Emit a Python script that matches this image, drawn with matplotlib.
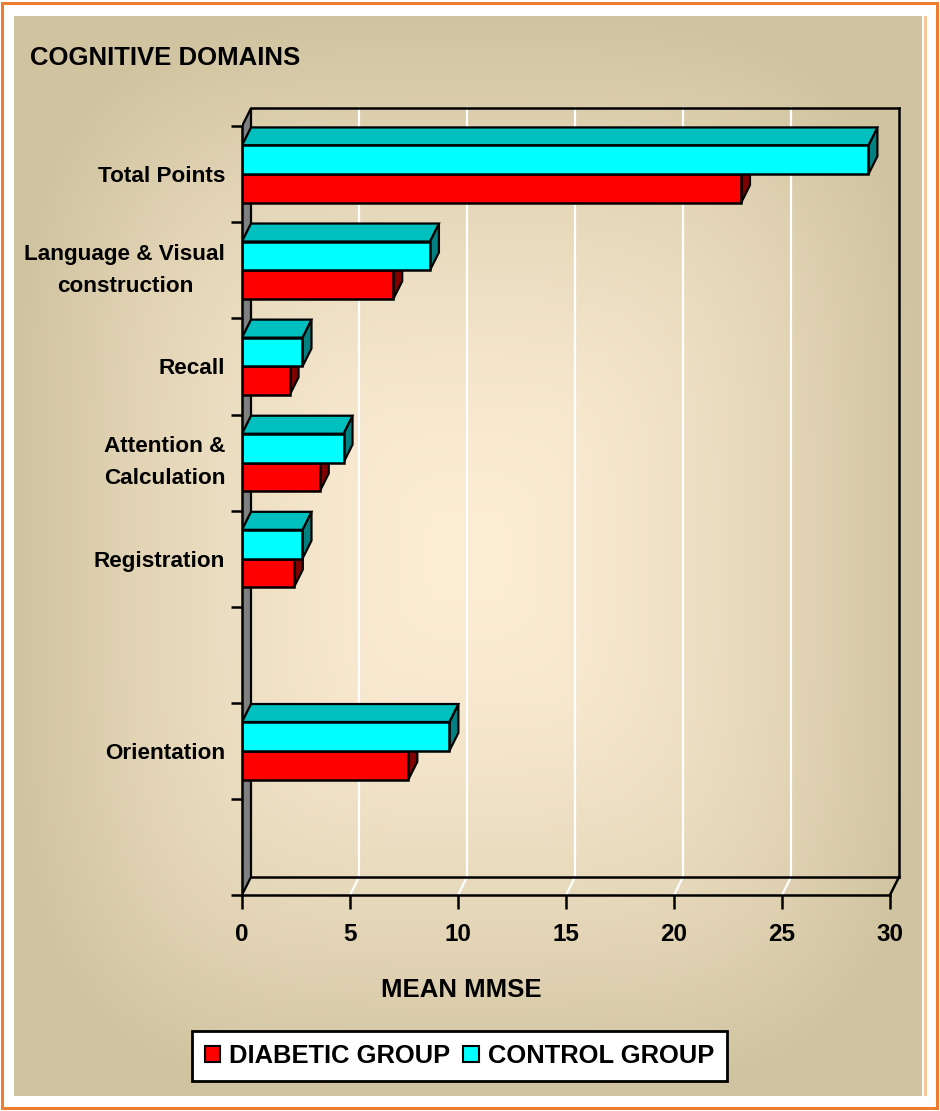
import numpy as np
import matplotlib.pyplot as plt
from matplotlib.patches import Polygon, Rectangle, Patch

# categories top to bottom (blank slots are empty categories in the original)
categories = ["Total Points", "Language & Visual\nconstruction", "Recall",
              "Attention &\nCalculation", "Registration", "", "Orientation", ""]
diabetic = [23.1, 7.0, 2.2, 3.6, 2.4, np.nan, 7.7, np.nan]
control = [29.0, 8.7, 2.8, 4.7, 2.8, np.nan, 9.6, np.nan]
xticks = [0, 5, 10, 15, 20, 25, 30]

plt.rcParams['font.family'] = ['Liberation Sans', 'DejaVu Sans']
plt.rcParams['font.weight'] = 'bold'

W, H = 940, 1111
fig = plt.figure(figsize=(W / 100, H / 100), dpi=100)
fig.patch.set_facecolor('white')


def fx(px):
    return px / W


def fy(py):
    return 1 - py / H


# beige panel with soft gradient
bg = fig.add_axes([fx(14), fy(1096), (922 - 14) / W, (1096 - 16) / H])
u = np.linspace(-1, 1, 300)
v = np.linspace(-1, 1, 350)
U, V = np.meshgrid(u, v)
r = (np.abs(U) ** 4 + np.abs(V) ** 4) ** 0.25
r = np.clip(r, 0, 1) ** 1.6
c0 = np.array([252, 237, 213]) / 255
c1 = np.array([208, 195, 159]) / 255
bg.imshow(c0 + (c1 - c0) * r[..., None], aspect='auto', extent=[0, 1, 0, 1])
bg.axis('off')

# orange outer frame
fig.patches.append(Rectangle((fx(2), fy(1108)), (937 - 2) / W, (1108 - 3) / H,
                             transform=fig.transFigure, fill=False,
                             edgecolor='#ED7D31', lw=2.2))
fig.patches.append(Rectangle((fx(924), fy(1096)), 3 / W, (1096 - 16) / H,
                             transform=fig.transFigure, color='#FAC898', lw=0))

# main 3D-looking chart
ppx, ppy = 21.6, 96.1
xmax, ymax = 31, 8.4
ax = fig.add_axes([fx(242), fy(895), xmax * ppx / W, ymax * ppy / H])
ax.set_xlim(0, xmax)
ax.set_ylim(0, ymax)
ax.patch.set_alpha(0)

n = len(categories)
dx, dy = 9 / ppx, 18 / ppy
top = n
xend = xticks[-1]

# gridlines on back wall and floor
for t in xticks[1:-1]:
    ax.plot([t + dx, t + dx], [dy, top + dy], color='white', lw=1.6, zorder=1)
    ax.plot([t, t + dx], [0, dy], color='white', lw=1.6, zorder=1)

# walls
ax.add_patch(Polygon([(0, 0), (dx, dy), (dx, top + dy), (0, top)],
                     facecolor='#808080', edgecolor='black', lw=1.6, zorder=2))
frame = dict(color='black', lw=1.8, zorder=2, solid_capstyle='projecting')
ax.plot([dx, xend + dx], [dy, dy], **frame)
ax.plot([xend, xend + dx], [0, dy], **frame)
ax.plot([xend + dx, xend + dx], [dy, top + dy], **frame)
ax.plot([dx, xend + dx], [top + dy, top + dy], **frame)

# bars
h = 0.3
for i in range(n):
    if np.isnan(control[i]):
        continue
    base = n - 1 - i
    z = 3 + i
    for val, y0, front, topc, side in [
            (diabetic[i], base + 0.2, '#FF0000', '#BF0000', '#800000'),
            (control[i], base + 0.2 + h, '#00FFFF', '#00BFBF', '#008080')]:
        y1 = y0 + h
        ax.add_patch(Polygon([(val, y0), (val + dx, y0 + dy), (val + dx, y1 + dy), (val, y1)],
                             facecolor=side, edgecolor='black', lw=1.6, zorder=z))
        ax.add_patch(Polygon([(0, y1), (val, y1), (val + dx, y1 + dy), (dx, y1 + dy)],
                             facecolor=topc, edgecolor='black', lw=1.6, zorder=z))
        ax.barh(y0, val, height=h, left=0, align='edge', color=front,
                edgecolor='black', lw=1.8, zorder=z)

# axes, ticks, labels
for s in ['top', 'right']:
    ax.spines[s].set_visible(False)
ax.spines['left'].set_bounds(0, top)
ax.spines['bottom'].set_bounds(0, xend)
ax.spines['left'].set_linewidth(1.8)
ax.spines['bottom'].set_linewidth(1.8)
ax.spines['left'].set_zorder(20)

ax.set_xticks(xticks)
ax.set_xticklabels([str(t) for t in xticks])
ax.tick_params(axis='x', length=10, width=1.8, pad=10, labelsize=17.5)
ax.set_yticks(range(n + 1))
ax.set_yticklabels([])
ax.tick_params(axis='y', which='major', length=8, width=1.8)
ax.set_yticks(np.arange(n) + 0.5, minor=True)
ax.set_yticklabels(categories[::-1], minor=True)
ax.tick_params(axis='y', which='minor', length=0, pad=12, labelsize=16.2)
for lab in ax.get_yticklabels(minor=True):
    lab.set_multialignment('center')
    lab.set_linespacing(1.72)
    if '\n' in lab.get_text():
        lab.set_va('center')

fig.text(fx(30), fy(58), "COGNITIVE DOMAINS", fontsize=18.5, fontweight='bold',
         ha='left', va='center')
fig.text(fx(461), fy(990), "MEAN MMSE", fontsize=18.5, fontweight='bold',
         ha='center', va='center')

handles = [Patch(facecolor='#FF0000', edgecolor='black', lw=1.5, label='DIABETIC GROUP'),
           Patch(facecolor='#00FFFF', edgecolor='black', lw=1.5, label='CONTROL GROUP')]
leg = fig.legend(handles=handles, loc='center', bbox_to_anchor=(fx(459.5), fy(1056)),
                 ncol=2, fontsize=18.4, handlelength=0.6, handleheight=0.6,
                 handletextpad=0.35, columnspacing=0.5, borderpad=0.5,
                 fancybox=False, framealpha=1, edgecolor='black')
leg.get_frame().set_linewidth(2)
for t in leg.get_texts():
    t.set_fontweight('bold')

fig.savefig('out.png', dpi=100, facecolor='white')
